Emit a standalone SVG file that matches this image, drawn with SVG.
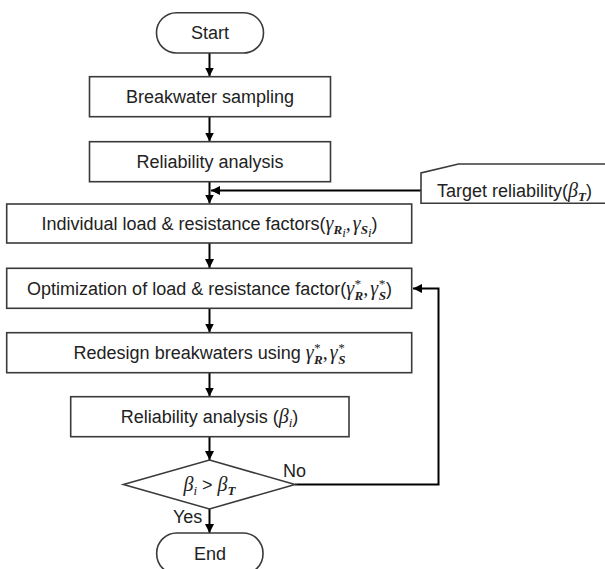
<svg xmlns="http://www.w3.org/2000/svg" width="605" height="569" viewBox="0 0 605 569">
<defs>
<style>
.box{fill:#fff;stroke:#3a3a3a;stroke-width:1.6}
.t{font-family:"Liberation Sans",Arial,sans-serif;font-size:18px;fill:#222;text-anchor:middle}
.lbl{font-family:"Liberation Sans",Arial,sans-serif;font-size:18px;fill:#222}
.m{font-family:"Liberation Serif","DejaVu Serif",serif;font-style:italic;font-size:20px}
.s{font-family:"Liberation Serif","DejaVu Serif",serif;font-style:italic;font-size:13px}
.c{fill:none;stroke:#000;stroke-width:2}
</style>
<marker id="ah" markerUnits="userSpaceOnUse" markerWidth="9" markerHeight="9" refX="9" refY="4.5" orient="auto">
<path d="M0,0 L9,4.5 L0,9 z" fill="#000"/>
</marker>
</defs>
<rect width="605" height="569" fill="#fff"/>
<g id="connectors">
<line class="c" x1="209.5" y1="53" x2="209.5" y2="76.5" marker-end="url(#ah)"/>
<line class="c" x1="209.5" y1="117" x2="209.5" y2="141.5" marker-end="url(#ah)"/>
<line class="c" x1="209.5" y1="182" x2="209.5" y2="203.5" marker-end="url(#ah)"/>
<line class="c" x1="421" y1="190.5" x2="211" y2="190.5" marker-end="url(#ah)"/>
<line class="c" x1="209.5" y1="243" x2="209.5" y2="268" marker-end="url(#ah)"/>
<line class="c" x1="209.5" y1="308.5" x2="209.5" y2="332.5" marker-end="url(#ah)"/>
<line class="c" x1="209.5" y1="373" x2="209.5" y2="396.5" marker-end="url(#ah)"/>
<line class="c" x1="209.5" y1="437" x2="209.5" y2="460" marker-end="url(#ah)"/>
<line class="c" x1="209.5" y1="509" x2="209.5" y2="533" marker-end="url(#ah)"/>
<polyline class="c" points="295,484.5 438.5,484.5 438.5,288.5 413,288.5" marker-end="url(#ah)"/>
</g>
<g id="start">
<rect class="box" x="156.5" y="12.7" width="107" height="40.3" rx="20"/>
<text class="t" x="210" y="39">Start</text>
</g>
<g id="sampling">
<rect class="box" x="89.5" y="76.7" width="241" height="40"/>
<text class="t" x="210" y="103">Breakwater sampling</text>
</g>
<g id="reliability1">
<rect class="box" x="89.5" y="141.7" width="241" height="40"/>
<text class="t" x="210" y="168">Reliability analysis</text>
</g>
<g id="target">
<path class="box" d="M610,164 L458.5,164 L421,173 L421,203.3 L610,203.3"/>
<text class="lbl" x="437" y="197">Target reliability(<tspan class="m">β</tspan><tspan class="s" font-weight="bold" dy="4">T</tspan><tspan dy="-4">)</tspan></text>
</g>
<g id="individual">
<rect class="box" x="6.7" y="204" width="405" height="39"/>
<text class="t" x="209.5" y="229.5">Individual load &amp; resistance factors(<tspan class="m">γ</tspan><tspan class="s" font-weight="bold" dy="4">R</tspan><tspan class="s" font-size="10" dy="3">i</tspan><tspan class="m" dy="-7">,</tspan><tspan class="m" dx="2">γ</tspan><tspan class="s" font-weight="bold" dy="4">S</tspan><tspan class="s" font-size="10" dy="3">i</tspan><tspan dy="-7">)</tspan></text>
</g>
<g id="optimization">
<rect class="box" x="6.7" y="268.3" width="405" height="40"/>
<text class="t" x="209.5" y="294.5">Optimization of load &amp; resistance factor(<tspan class="m">γ</tspan><tspan class="s" dy="-7">*</tspan><tspan class="s" font-weight="bold" dx="-6" dy="12">R</tspan><tspan class="m" dy="-5">,</tspan><tspan class="m" dx="2">γ</tspan><tspan class="s" dy="-7">*</tspan><tspan class="s" font-weight="bold" dx="-6" dy="12">S</tspan><tspan dy="-5">)</tspan></text>
</g>
<g id="redesign">
<rect class="box" x="6.7" y="332.7" width="405" height="40"/>
<text class="t" x="209.5" y="359">Redesign breakwaters using <tspan class="m">γ</tspan><tspan class="s" dy="-7">*</tspan><tspan class="s" font-weight="bold" dx="-6" dy="12">R</tspan><tspan class="m" dy="-5">,</tspan><tspan class="m" dx="2">γ</tspan><tspan class="s" dy="-7">*</tspan><tspan class="s" font-weight="bold" dx="-6" dy="12">S</tspan></text>
</g>
<g id="reliability2">
<rect class="box" x="70.7" y="396.7" width="278.3" height="40"/>
<text class="t" x="209.5" y="423">Reliability analysis (<tspan class="m">β</tspan><tspan class="s" dy="4">i</tspan><tspan dy="-4">)</tspan></text>
</g>
<g id="decision">
<polygon class="box" points="209.5,460 295,484.5 209.5,509 123.5,484.5"/>
<text class="t" x="209.5" y="491"><tspan class="m">β</tspan><tspan class="s" dy="4">i</tspan><tspan dy="-4"> &gt; </tspan><tspan class="m">β</tspan><tspan class="s" font-weight="bold" dy="4">T</tspan></text>
<text class="lbl" x="283" y="476.5">No</text>
<text class="lbl" x="173" y="522.5">Yes</text>
</g>
<g id="end">
<rect class="box" x="156.7" y="533" width="106.3" height="41" rx="20"/>
<text class="t" x="210" y="559.5">End</text>
</g>
</svg>
